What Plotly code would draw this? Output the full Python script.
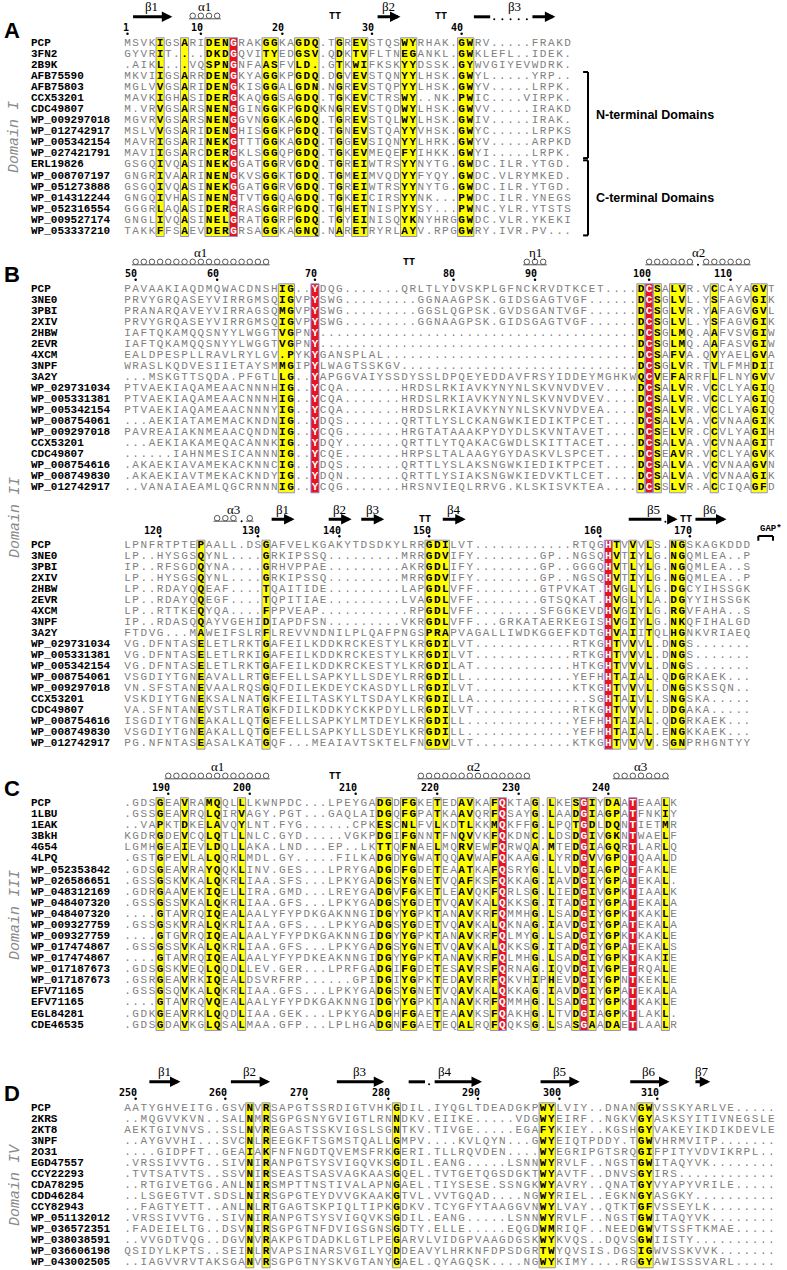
import plotly.graph_objects as go

# ---------------------------------------------------------------- panel A data
NAMES_A = ["PCP", "3FN2", "2B9K", "AFB75590", "AFB75803", "CCX53201", "CDC49807",
           "WP_009297018", "WP_012742917", "WP_005342154", "WP_027421791", "ERL19826",
           "WP_008707197", "WP_051273888", "WP_014312244", "WP_052316554",
           "WP_009527174", "WP_053337210"]
SEQS_A = [
    "MSVKIGSARIDENGRAKGGKAGDQ.TGREVSTQSWYRHAK.GWRV.....FRAKD",
    "GYVRIT....DKDGQVITYEDGSV.QDKTVFLTNEGANKL.GWKLEFL..IDEK.",
    ".AIKL...VQSPNGNFAASFVLD..GTKWIFKSKYYDSSK.GYWVGIYEVWDRK.",
    "MKVIIGSARRDENGKYAGGKPGDQ.DGVEVSTQNYYLHSK.GWYL.....YRP..",
    "MGLVVGSARIDENGKISGGALGDN.NGREVSTQPYYLHSK.GWYV.....LRPK.",
    "MAVKIGHASIDERGKAQGGSAGDQ.TGKEVCTRSWY..NK.PWIC....VIRPK.",
    "M.VRVGSARSNENGGINGGKPGDQKNGREVSTQDWYLHSK.GWVV.....IRAKD",
    "MGVRVGSARSNENGGVNGGKAGDQ.TGREVSTQLWYLHSK.GWIV.....IRAK.",
    "MSLVVGSARIDENGHISGGKPGDQ.TGNEVSTQAYYVHSK.GWYC.....LRPKS",
    "MAVRIGSARINEKGTTTGGKAGDQ.TGGEVSIQNYYLHRK.GWYV.....ARPKD",
    "MAVIIGSARCDERGKLSGGQPGDQ.TGKEVMEQEFYIHKK.GWYI.....LRPK.",
    "GSGQIVQASINEKGGATGGRVGDQ.TGREIWTRSYYNYTG.GWDC.ILR.YTGD.",
    "GNGRIVAARINENGKVSGGKTGDQ.TGMEIMVQDYYFYQY.GWDC.VLRYMKED.",
    "GSGQIVQASINEKGGATGGRVGDQ.TGREIWTRSYYNYTG.GWDC.ILR.YTGD.",
    "GNGQIVHASINENGTVTGGQAGDQ.TGKEICIRSYYNK...PWDC.ILR.YNEGS",
    "GGGRLAQASIDERGRASGGRPGDQ.TGHETNISPYYSY...PWNC.YLR.YTSTS",
    "GNGLIVQASINELGRATGGRPGDQ.TGYEINISQYKNYHRGGWDC.VLR.YKEKI",
    "TAKKFFSAEVDERGRSAGGKAGNQ.NARETRYRLAYV.RPGGWRY.IVR.PV...",
]
BOXES_A = [(5, 5), (8, 8), (11, 13), (14, 14), (18, 19), (22, 24), (27, 27),
           (29, 30), (35, 36), (42, 43)]
RED_A = [14]
TICKS_A = [(1, "1"), (10, "10"), (20, "20"), (31, "30"), (42, "40")]
SS_A = [("beta", 2, 6, "β1", None), ("helix", 9, 12, "α1", None),
        ("turn", 26, 27, "", None), ("beta", 32, 34, "β2", None),
        ("turn", 39, 40, "", None), ("beta", 44, 53, "β3", (46, 50))]
GROUPS_A = [("N-terminal Domains", 3, 10), ("C-terminal Domains", 11, 17)]

# ---------------------------------------------------------------- panel B data
NAMES_B = ["PCP", "3NE0", "3PBI", "2XIV", "2HBW", "2EVR", "4XCM", "3NPF", "3A2Y",
           "WP_029731034", "WP_005331381", "WP_005342154", "WP_008754061",
           "WP_009297018", "CCX53201", "CDC49807", "WP_008754616", "WP_008749830",
           "WP_012742917"]
SEQS_B1 = [
    "PAVAAKIAQDMQWACDNSHIG..YDQG" + "." * 7 + "QRLTLYDVSKPLGFNCKRVDTKCET" + "." * 4 + "DCSALVR.VCCAYAGVT",
    "PRVYGRQASEYVIRRGMSQIGVPYSWG" + "." * 9 + "GGNAAGPSK.GIDSGAGTVGF" + "." * 6 + "DCSGLVL.YSFAGVGIK",
    "PRANARQAVEYVIRRAGSQMGVPYSWG" + "." * 9 + "GGSLQGPSK.GVDSGANTVGF" + "." * 6 + "DCSGLVR.YAFAGVGVL",
    "PRVYGRQASEYVIRRGMSQIGVPYSWG" + "." * 9 + "GGNAAGPSK.GIDSGAGTVGF" + "." * 6 + "DCSGLVL.YSFAGVGIK",
    "IAFTQKAMQQSNYYLWGGTVGPNY" + "." * 39 + "DCSGLMQ.AAFVSVGIW",
    "IAFTQKAMQQSNYYLWGGTVGPNY" + "." * 39 + "DCSGLMQ.AAFASVGIW",
    "EALDPESPLLRAVLRYLGV.PYKYGANSPLAL" + "." * 31 + "DCSAFVA.QVYAELGVA",
    "WRASLKQDVESIIETAYSMMGIPYLWAGTSSKGV" + "." * 29 + "DCSGLVR.TVLFMHDII",
    "...MSKGTTSQDA.PFGTLLG..YAPGGVAIYSSDYSSLDPQEYEDDAVFRSYIDDEYMGHKWQCVEFARRFLFLNYGVV",
    "PTVAEKIAQAMEAACNNNHIG..YCQA" + "." * 7 + "HRDSLRKIAVKYNYNLSKVNVDVEV" + "." * 4 + "DCSALVR.VCCLYAGIQ",
    "PTVAEKIAQAMEAACNNNHIG..YCQA" + "." * 7 + "HRDSLRKIAVKYNYNLSKVNVDVEV" + "." * 4 + "DCSALVR.VCCLYAGIQ",
    "PTVAEKIAQAMEAACNNNYIG..YCQA" + "." * 7 + "HRDSLRKIAVKYNYNLSKVNVDVEA" + "." * 4 + "DCSALVR.VCCLYAGIQ",
    "...AEKIATAMEMACKNDNIG..YDQS" + "." * 7 + "QRTTLYSLCKANGWKIEDIKTPCET" + "." * 4 + "DCSALVA.VCVNAAGIK",
    "PAVREAIAKNMEAACQNDNIG..YCQG" + "." * 7 + "HRGTATAAAKPYDYDLSKVNTAVET" + "." * 4 + "DCSELVR.CCVLYAGIH",
    "...AEKIAKAMEQACANNKIG..YDQY" + "." * 7 + "QRTTLYTQAKACGWDLSKITTACET" + "." * 4 + "DCSALVA.VCVNAAGIT",
    "......IAHNMESICANNNIG..YCQE" + "." * 7 + "HRPSLTALAAGYGYDASKVLSPCET" + "." * 4 + "DCSEAVR.VCCLYAGVK",
    ".AKAEKIAVAMEKACKNNCIG..YDQS" + "." * 7 + "QRTTLYSLAKSNGWKIEDIKTPCET" + "." * 4 + "DCSALVA.VCVNAAGVN",
    ".AKAEKIAVTMEKACKNDYIG..YDQN" + "." * 7 + "QRTTLYSIAKSNGWKIEDVKTLCET" + "." * 4 + "DCSALVA.VCVNAAGIK",
    "..VANAIAEAMLQGCRNNNIG..YCQG" + "." * 7 + "HRSNVIEQLRRVG.KLSKISVKTEA" + "." * 4 + "DCSSLVR.ACCIQAGFD",
]
BOXES_B1 = [(20, 21), (24, 24), (64, 64), (65, 65), (66, 66), (68, 69), (73, 73), (78, 79)]
RED_B1 = [24, 65]
TICKS_B1 = [(2, "50"), (12, "60"), (24, "70"), (41, "80"), (51, "90"), (65, "100"), (75, "110")]
SS_B1 = [("helix", 2, 18, "α1", None), ("turn", 35, 36, "", None),
         ("helix", 50, 52, "η1", None), ("helix", 65, 77, "α2", (71, 71))]

SEQS_B2 = [
    "LPNFRTPTEPAALL.DSGAFVELKGAKYTDSDKYLRRGD" + "ILVT" + "." * 12 + "RTQGHTVVVLS.NGSKAGKDDD",
    "LP..HYSGSQYNL....GRKIPSSQ" + "." * 9 + "MRRGD" + "VIFY" + "." * 8 + "GP..NGSQHVTIYLG.NGQMLEA..P",
    "IP..RFSGDQYNA....GRHVPPAE" + "." * 9 + "AKRGD" + "LIFY" + "." * 8 + "GP..GGGQHVTLYLG.NGQMLEA..S",
    "LP..HYSGSQYNL....GRKIPSSQ" + "." * 9 + "MRRGD" + "VIFY" + "." * 8 + "GP..NGSQHVTIYLG.NGQMLEA..P",
    "LP..RDAYQQEAF....TQAITIDE" + "." * 9 + "LAPGD" + "LVFF" + "." * 8 + "GTPVKAT.HVGLYLG.DGCYIHSSGK",
    "LP..RDAYQQEGF....TQPITIAE" + "." * 9 + "LVAGD" + "LVFF" + "." * 8 + "GTSQKAT.HVGLYLA.DGYYIHSSGK",
    "LP..RTTKEQYQA....FPPVEAP" + "." * 11 + "RPGD" + "LVFF" + "." * 8 + "SFGGKEVDHVGIYLG.RGVFAHA..S",
    "IP..RDASQQAYVGEHIDIAPDFSN" + "." * 9 + "VKRGD" + "LVFF" + "..." + "GRKATAERKEGISHVGIYLG.NKQFIHALGD",
    "FTDVG...MAWEIFSLRFLREVVNDNILPLQAFPNGSPRAPVAGALLIWDKGGEFKDTGHVAIITQLHGNKVRIAEQ",
    "VG.DFNTASELETLRKTGAFEILKDDKRCKESTYLKRGD" + "ILVT" + "." * 12 + "RTKGHTVVVL.DNGS" + "." * 7,
    "VG.DFNTASELETLRKIGAFEILKDDKRCKESTYLKRGD" + "ILVT" + "." * 12 + "RTKGHTVVVL.DNGS" + "." * 7,
    "VG.DFNTASELETLRKTGAFEILKDDKRCKESTYLKRGD" + "ILAT" + "." * 12 + "HTKGHTVVVL.DNGS" + "." * 7,
    "VSGDIYTGNEAVALLRTGEFELLSAPKYLLSDEYLRRGD" + "ILL" + "." * 13 + "YEFHHTAIAL.QDGRKAEK...",
    "VN.SFSTANEVAALRQSGQFDILEKDEYCKASDYLLRGD" + "ILVT" + "." * 12 + "KTKGHTVVVL.DNGSKSSQN..",
    "VSKDIYTGNEKSALNATGKFEILTASKYLTSDAYLKRGD" + "ILLA" + "." * 14 + "SGHTAIVL.SNGSKA" + "." * 5,
    "VA.SFNTANEVSTLRATGKFDILKDDKYCKKPDYLLRGD" + "ILVT" + "." * 12 + "RTKGHTVVVL.DDGAKA" + "." * 5,
    "ISGDIYTGNEAKALLQTGEFELLSAPKYLMTDEYLKRGD" + "ILL" + "." * 13 + "YEFHHTAIAL.QDGRKAEK...",
    "VSGDIYTGNEAKALLQTGEFELLSAPKYLLSDEYLKRGD" + "ILL" + "." * 13 + "YEFHHTAIAL.ENGKKAEK...",
    "PG.NFNTASEASALKATGQF...MEAIAVTSKTELFNGD" + "VLVT" + "." * 12 + "KTKGHTVVVV.SGNPRHGNTYY",
]
BOXES_B2 = [(10, 10), (18, 18), (38, 40), (60, 60), (61, 61), (63, 63), (65, 65), (68, 69)]
RED_B2 = [60]
TICKS_B2 = [(5, "120"), (17, "130"), (27, "140"), (38, "150"), (59, "160"), (70, "170")]
SS_B2 = [("helix", 12, 16, "α3", (15, 15)), ("beta", 19, 21, "β1", None),
         ("beta", 26, 28, "β2", None), ("beta", 30, 32, "β3", None),
         ("turn", 37, 38, "", None), ("beta", 40, 42, "β4", None),
         ("beta", 63, 68, "β5", (67, 67)), ("turn", 69, 70, "", None),
         ("beta", 71, 74, "β6", None)]

# ---------------------------------------------------------------- panel C data
NAMES_C = ["PCP", "1LBU", "1EAK", "3BkH", "4G54", "4LPQ", "WP_052353842",
           "WP_026586651", "WP_048312169", "WP_048407320", "WP_048407320",
           "WP_009327759", "WP_009327759", "WP_017474867", "WP_017474867",
           "WP_017187673", "WP_017187673", "EFV71165", "EFV71165", "EGL84281", "CDE46535"]
SEQS_C = [
    ".GDSGEAVRAMQQLLLKWNPDC...LPEYGADGDFGKET" + "EDAVKAFQKTAG.LKESGIYDAATEAALK",
    ".GSSGEAVRQLQIRVAGY.PGT...GAQLAIDGQFGPAT" + "KAAVQRFQSAYG.LAADGIAGPATFNKIY",
    "..VAPKTDKELAVQYLNT.FYG" + "." * 6 + "CPKESCNLFVL" + "KDTLKKMQKFFG.LPQTGDLDQNTIETMR",
    "KGDRGDEVCQLQTLLNLC.GYD" + "." * 5 + "VGKPDGIFGNNT" + "FNQVVKFQKDNC.LDSDGIVGKNTWAELF",
    "LGMHGEAIEVLDQLLAKA.LND...EP..LKTTQFNAEL" + "MQRVEWFQRWQA.MTEDGIAGQRTLARLQ",
    ".GSTGPEVLALQQRLMDL.GY" + "." * 5 + "FILKADGDYGWAT" + "QQAVWAFQKAAG.LYRDGVVGPQTQAALD",
    ".GDSGEAVRAYQQKLINV.GES...LPRYGADGDFGDET" + "EAATKAFQSRYG.LLVDGIAGPQTFAKLE",
    ".GSSGSKVKALQKRLIAA.SFS...LPKYGADGSYGNET" + "VQAFKSFQKKAG.IAVDGIYGPATEKAL.",
    ".GDRGAAVEKIQELLIRA.GMD...LREYGADGVFGKET" + "LEAVQKFQRLSG.LIEDGIVGPKTIAALK",
    ".GSSGSSVKALQKRLIAA.GFS...LPKYGADGSYGDET" + "VQAVKALQKKSG.ITADGIYGPATEKALA",
    "....GTAVRQIQEALAALYFYPDKGAKNNGIDGYYGPKT" + "ANAVKRFQMMHG.LSADGIYGPKTKAKLE",
    ".GSSGSKVRALQKRLIAA.GFS...LPKYGADGSYGDET" + "VQAVKALQKNAG.IAVDGIYGPATEKALA",
    "....GTGVRQIQEALAALYFYPDKGAKNNGIDGYYGPKT" + "ANAVKRFQLMYG.LSADGIYGPKTKAKLE",
    ".GSSGSSVKALQKRLIAA.GFS...LPKYGADGSYGNET" + "VQAVKALQKKSG.ITADGIYGPATEKALS",
    "....GTAVRQIQEALAALYFYPDKEAKNNGIDGYYGPKT" + "ANAVKRFQLMHG.LSADGIYGPKTKAKIE",
    ".GDSGSKVEQLQQDLLEV.GER...LPRFGADGIFGDET" + "ESAVRSFQRNAG.IQVDGIVGPETRQALE",
    ".GSRGEAVRKIQEALDSVRFRP" + "." * 6 + "GPIDGIYGPKT" + "EDAVRRFQKVHIPHEVDGIYGPNTKEKLE",
    ".GSSGSQVKALQKRLIAA.GFS...LPKYGADGSYGNET" + "VQAVKALQKKAG.IAVDGIYGPATEKALA",
    "....GTAVRQVQEALAALYFYPDKGAKNNGIDGYYGPKT" + "ANAVKRFQMMHG.LSADGIYGPKTKAKLE",
    ".GDKGEAVRKLQQDLIAA.GEK...LPKYGADGHFGAET" + "EAAVKSFQAKHG.LTVDGIAGPKTLAKL.",
    ".GDSGDAVKGLQSALMAA.GFP...LPLHGADGNFGAET" + "EQALRQFQQKSG.LSASGAADAETLAALR",
]
BOXES_C = [(5, 5), (8, 8), (11, 12), (15, 15), (32, 33), (35, 36), (39, 39), (42, 43),
           (46, 46), (47, 47), (51, 51), (53, 53), (56, 56), (57, 57), (58, 58),
           (60, 61), (63, 63), (67, 67)]
RED_C = [47, 57, 63]
TICKS_C = [(6, "190"), (16, "200"), (29, "210"), (39, "220"), (49, "230"), (60, "240")]
SS_C = [("helix", 6, 18, "α1", None), ("turn", 26, 27, "", None),
        ("helix", 37, 50, "α2", None), ("helix", 61, 67, "α3", None)]

# ---------------------------------------------------------------- panel D data
NAMES_D = ["PCP", "2KRS", "2KT8", "3NPF", "2O31", "EGD47557", "CCY22293", "CDA78295",
           "CDD46284", "CCY82943", "WP_051132012", "WP_036572351", "WP_038038591",
           "WP_036606198", "WP_043002505"]
SEQS_D = [
    "AATYGHVEITG.GSVNVRSAPGTSSRDIGTVHKGDIL.IYQGLTDEADGKPWYLVIY..DNANGWVSSKYARLVE" + "." * 5,
    "..MQGVVKVN..SALNMRSGPGSNYGVIGTLRNNDKV.EIIKE" + "." * 5 + "VDGWYEIRF..NGKVGYASKSYITIVNEGSLE",
    "AEKTGIVNVS..SSLNVREGASTSSKVIGSLSGNTKV.TIVGE" + "." * 5 + "EGAFYKIEY..KGSHGYVAKEYIKDIKDEVLE",
    "..AYGVVHI...SVCNLREEGKFTSGMSTQALLGMPV" + "." * 4 + "KVLQYN...GWYEIQTPDDY.TGWVHRMVITP" + "." * 7,
    "....GIDPFT..GEAIAKFNFNGDTQVEMSFRKGERI.TLLRQVDEN" + "." * 4 + "WYEGRIPGTSRQGIFPITYVDVIKRPL..",
    ".VRSSIVVTG..SIVNIRANPGTSYSVIGQVKSGDIL.EANG" + "." * 5 + "LSNNWYRVLF..NGSTGWITAQYVK" + "." * 8,
    ".TVTSATVTS..SSVNIRSEASTSASVAGKAASGQEL.TVTGETQGSDGKTWYAVTF..DNVSGYIRS" + "." * 12,
    "..RTGIVETGG.ANLNIRSMPTTNSTIVALAPNGAEL.TIYSESE.SSNGKWYAVRY..QNATGYVYAPYVRILE" + "." * 5,
    "..LSGEGTVT.SDSLNIRSGPGTEYDVVGKAAKGTVL.VVTGQAD" + "." * 4 + "NGWYRIEL..EGKNGYASGKY" + "." * 10,
    "..FAGTYETT..ANLNLRTGAGTSKPIQLTIPKGDKV.TCYGFYTAAGGVNWYLVAY..QTKTGFVSSEYLK" + "." * 8,
    ".VRSSIVVTG..SIVNIRANPGTSYSVIGQVKSGDIL.EANG" + "." * 5 + "LSNNWYRVLF..NGSTGWITAQYVK" + "." * 8,
    ".FADEIELTG..DSVNIRSGPGTNFDVIGSGNSGDTY.ELLE" + "." * 5 + "EQGDWMRIQF..NEEDGWVTSSFTKMAE" + "." * 5,
    "..VVGDTVQG..DGVNVRAKPGTDADKLGTLPEGARVLVIDGPVAAGDGSKWYKVQS..DQVSGWIISTY" + "." * 10,
    "QSIDYLKPTS..SEINLRVAPSINARSVGILYQDDEAVYLHRKNFDPSDGRTWYQVSIS.DGSIGWVSSKVVK" + "." * 7,
    "..IAGVVRVTAKSGANVRSGPGTNYSKVGTANYGAEL.QYAGQSK" + "." * 4 + "NGWYKIMY" + "." * 4 + "RGGYAWISSSVARL" + "." * 5,
]
BOXES_D = [(16, 16), (18, 18), (34, 34), (52, 53), (64, 65)]
RED_D = []
TICKS_D = [(2, "250"), (13, "260"), (23, "270"), (33, "280"), (44, "290"), (54, "300"), (66, "310")]
SS_D = [("beta", 4, 7, "β1", None), ("beta", 14, 18, "β2", None), ("beta", 27, 32, "β3", None),
        ("beta", 36, 44, "β4", (38, 38)), ("beta", 52, 56, "β5", None),
        ("beta", 63, 67, "β6", None), ("beta", 71, 72, "β7", None)]

DOMAIN_LABELS = [("Domain I", 137), ("Domain II", 518), ("Domain III", 915), ("Domain IV", 1185)]
PANEL_LETTERS = [("A", 31), ("B", 274), ("C", 788), ("D", 1093)]

# ---------------------------------------------------------------- layout / style
W, H = 787, 1270
COL_W = 8.15           # px per alignment column
COL1_PX = 127.5        # px centre of column 1
X0 = 1 - COL1_PX / COL_W
X1 = X0 + W / COL_W
NAME_X = X0 + 31 / COL_W

YELLOW = "#ffff00"
RED = "#e8141e"
BOX_LINE = "#8e8ed8"
GREY = "#808080"
MONO = "Liberation Mono"

# header offsets (px from first row centre)
LABEL_DY, STRUCT_DY, TICK_DY, DOT_DY = -36.5, -26.5, -15.5, -9.5
LOOP_DY, BASE_DY = -27.5, -24.5

PANELS = [
    dict(names=NAMES_A, seqs=SEQS_A, boxes=BOXES_A, red=RED_A, ticks=TICKS_A, ss=SS_A,
         first=43.3, pitch=11.04, top=0, bottom=242),
    dict(names=NAMES_B, seqs=SEQS_B1, boxes=BOXES_B1, red=RED_B1, ticks=TICKS_B1, ss=SS_B1,
         first=289.3, pitch=11.0, top=242, bottom=496),
    dict(names=NAMES_B, seqs=SEQS_B2, boxes=BOXES_B2, red=RED_B2, ticks=TICKS_B2, ss=SS_B2,
         first=545.7, pitch=11.0, top=496, bottom=752),
    dict(names=NAMES_C, seqs=SEQS_C, boxes=BOXES_C, red=RED_C, ticks=TICKS_C, ss=SS_C,
         first=803.3, pitch=11.08, top=752, bottom=1036),
    dict(names=NAMES_D, seqs=SEQS_D, boxes=BOXES_D, red=RED_D, ticks=TICKS_D, ss=SS_D,
         first=1108.3, pitch=11.0, top=1036, bottom=1270),
]

fig = go.Figure()
shapes, notes, axes = [], [], {}


def hline(xr, yr, xa, xb, y, width=3, color="black"):
    shapes.append(dict(type="line", xref=xr, yref=yr, x0=xa, x1=xb, y0=y, y1=y,
                       line=dict(color=color, width=width), layer="above"))


for n, p in enumerate(PANELS, start=1):
    sfx = "" if n == 1 else str(n)
    xr, yr = "x" + sfx, "y" + sfx
    pitch, first = p["pitch"], p["first"]
    axes["xaxis" + sfx] = dict(domain=[0, 1], range=[X0, X1], visible=False, anchor=yr)
    axes["yaxis" + sfx] = dict(domain=[1 - p["bottom"] / H, 1 - p["top"] / H],
                               range=[(p["bottom"] - first) / pitch, (p["top"] - first) / pitch],
                               visible=False, anchor=xr)

    ncol = max(len(s) for s in p["seqs"])
    seqs = [s.ljust(ncol, ".")[:ncol] for s in p["seqs"]]
    nrow = len(seqs)
    boxed = {c for a, b in p["boxes"] for c in range(a, b + 1)}
    red = set(p["red"])
    cols = list(range(1, ncol + 1))

    # -- cell backgrounds --
    z = [[(2 if c in red else 1) if c in boxed else None for c in cols] for _ in seqs]
    fig.add_trace(go.Heatmap(x=cols, y=list(range(nrow)), z=z, zmin=1, zmax=2,
                             colorscale=[[0, YELLOW], [0.49, YELLOW], [0.51, RED], [1, RED]],
                             showscale=False, hoverinfo="skip", xaxis=xr, yaxis=yr))

    # -- residues, split by style --
    buckets = {"plain": ([], [], []), "bold": ([], [], []), "white": ([], [], [])}
    for r, seq in enumerate(seqs):
        for c, ch in enumerate(seq, start=1):
            key = "white" if c in red else ("bold" if c in boxed else "plain")
            bx, by, bt = buckets[key]
            bx.append(c)
            by.append(r)
            bt.append(ch)
    styles = {"plain": (GREY, "normal"), "bold": ("black", "bold"), "white": ("white", "bold")}
    for key, (bx, by, bt) in buckets.items():
        if not bx:
            continue
        color, weight = styles[key]
        fig.add_trace(go.Scatter(x=bx, y=by, text=bt, mode="text", textposition="middle center",
                                 textfont=dict(family=MONO, size=11, color=color, weight=weight),
                                 hoverinfo="skip", xaxis=xr, yaxis=yr))

    # -- sequence names --
    fig.add_trace(go.Scatter(x=[NAME_X] * nrow, y=list(range(nrow)), text=p["names"],
                             mode="text", textposition="middle right",
                             textfont=dict(family=MONO, size=11, color="black", weight="bold"),
                             hoverinfo="skip", xaxis=xr, yaxis=yr))

    # -- conservation boxes --
    for a, b in p["boxes"]:
        shapes.append(dict(type="rect", xref=xr, yref=yr, x0=a - 0.5, x1=b + 0.5,
                           y0=-0.5, y1=nrow - 0.5, line=dict(color=BOX_LINE, width=1),
                           fillcolor="rgba(0,0,0,0)", layer="above"))

    # -- residue numbering --
    for c, lab in p["ticks"]:
        notes.append(dict(x=c + 0.45, y=TICK_DY / pitch, xref=xr, yref=yr, text=lab,
                          showarrow=False, xanchor="right", yanchor="middle",
                          font=dict(family="DejaVu Sans Mono", size=10, color="black", weight="bold")))
    fig.add_trace(go.Scatter(x=[c for c, _ in p["ticks"]], y=[DOT_DY / pitch] * len(p["ticks"]),
                             mode="markers", marker=dict(size=2.5, color="black"),
                             hoverinfo="skip", xaxis=xr, yaxis=yr))

    # -- secondary structure --
    loop_x, dot_x, dot_y = [], [], []
    ya = STRUCT_DY / pitch
    for kind, s, e, label, gap in p["ss"]:
        if kind == "beta":
            start = s - 0.5
            if gap:
                hline(xr, yr, s - 0.5, gap[0] - 0.5, ya)
                for g in range(gap[0], gap[1] + 1):
                    dot_x.append(g)
                    dot_y.append(ya + 2.5 / pitch)
                start = gap[1] + 0.5
            notes.append(dict(x=e + 0.5, y=ya, ax=start, ay=ya, xref=xr, yref=yr,
                              axref=xr, ayref=yr, text="", showarrow=True, arrowhead=2,
                              arrowsize=0.7, arrowwidth=3, arrowcolor="black", standoff=0))
        elif kind == "helix":
            gcols = set(range(gap[0], gap[1] + 1)) if gap else set()
            seg = []
            for c in range(s, e + 1):
                if c in gcols:
                    if seg:
                        hline(xr, yr, seg[0] - 0.45, seg[-1] + 0.45, BASE_DY / pitch, width=1, color="#555")
                    seg = []
                    dot_x.append(c)
                    dot_y.append(BASE_DY / pitch)
                else:
                    seg.append(c)
                    loop_x.append(c)
            if seg:
                hline(xr, yr, seg[0] - 0.45, seg[-1] + 0.45, BASE_DY / pitch, width=1, color="#555")
        elif kind == "turn":
            notes.append(dict(x=(s + e) / 2, y=ya, xref=xr, yref=yr, text="TT", showarrow=False,
                              font=dict(family=MONO, size=10, color="black", weight="bold")))
        if label:
            notes.append(dict(x=(s + e) / 2, y=LABEL_DY / pitch, xref=xr, yref=yr, text=label,
                              showarrow=False, font=dict(family="Liberation Serif", size=13, color="black")))
    if loop_x:
        fig.add_trace(go.Scatter(x=loop_x, y=[LOOP_DY / pitch] * len(loop_x), mode="markers",
                                 marker=dict(symbol="circle-open", size=5.5, color="#555",
                                             line=dict(width=1, color="#555")),
                                 hoverinfo="skip", xaxis=xr, yaxis=yr))
    if dot_x:
        fig.add_trace(go.Scatter(x=dot_x, y=dot_y, mode="markers",
                                 marker=dict(size=2, color="black"),
                                 hoverinfo="skip", xaxis=xr, yaxis=yr))

    # -- N-/C-terminal brackets (panel A) --
    if n == 1:
        for label, r0, r1 in GROUPS_A:
            ya0, ya1 = r0 - 0.4, r1 + 0.4
            shapes.append(dict(type="line", xref=xr, yref=yr, x0=57.5, x1=57.5, y0=ya0, y1=ya1,
                               line=dict(color="black", width=2)))
            hline(xr, yr, 56.9, 57.5, ya0, width=2)
            hline(xr, yr, 56.9, 57.5, ya1, width=2)
            notes.append(dict(x=58.2, y=(r0 + r1) / 2, xref=xr, yref=yr, text=label,
                              showarrow=False, xanchor="left",
                              font=dict(family="Liberation Sans", size=12.5, color="black", weight="bold")))

    # -- GAP* marker (panel B, second block) --
    if n == 3:
        gy0, gy1 = -0.88, -0.45
        hline(xr, yr, 78.4, 80.2, gy0, width=2)
        for gx in (78.4, 80.2):
            shapes.append(dict(type="line", xref=xr, yref=yr, x0=gx, x1=gx, y0=gy0, y1=gy1,
                               line=dict(color="black", width=2)))
        notes.append(dict(x=80.0, y=-1.55, xref=xr, yref=yr, text="GAP*", showarrow=False,
                          font=dict(family=MONO, size=9, color="black", weight="bold")))

# -- panel letters and domain labels --
for letter, py in PANEL_LETTERS:
    notes.append(dict(x=12 / W, y=1 - py / H, xref="paper", yref="paper", text=letter,
                      showarrow=False, xanchor="center", yanchor="middle",
                      font=dict(family="Liberation Sans", size=22, color="black", weight="bold")))
for label, py in DOMAIN_LABELS:
    notes.append(dict(x=15 / W, y=1 - py / H, xref="paper", yref="paper", text=label,
                      textangle=-90, showarrow=False, xanchor="center", yanchor="middle",
                      font=dict(family=MONO, size=15, color="#8a8a8a", style="italic")))

fig.update_layout(
    width=W, height=H,
    margin=dict(l=0, r=0, t=0, b=0),
    paper_bgcolor="white", plot_bgcolor="white",
    showlegend=False,
    shapes=shapes, annotations=notes,
    **axes,
)

# the page body has a default 8px margin; drop it so the figure sits at the window origin
fig.write_html("out.html", config={"displayModeBar": False},
               post_script="document.body.style.margin='0px';")
